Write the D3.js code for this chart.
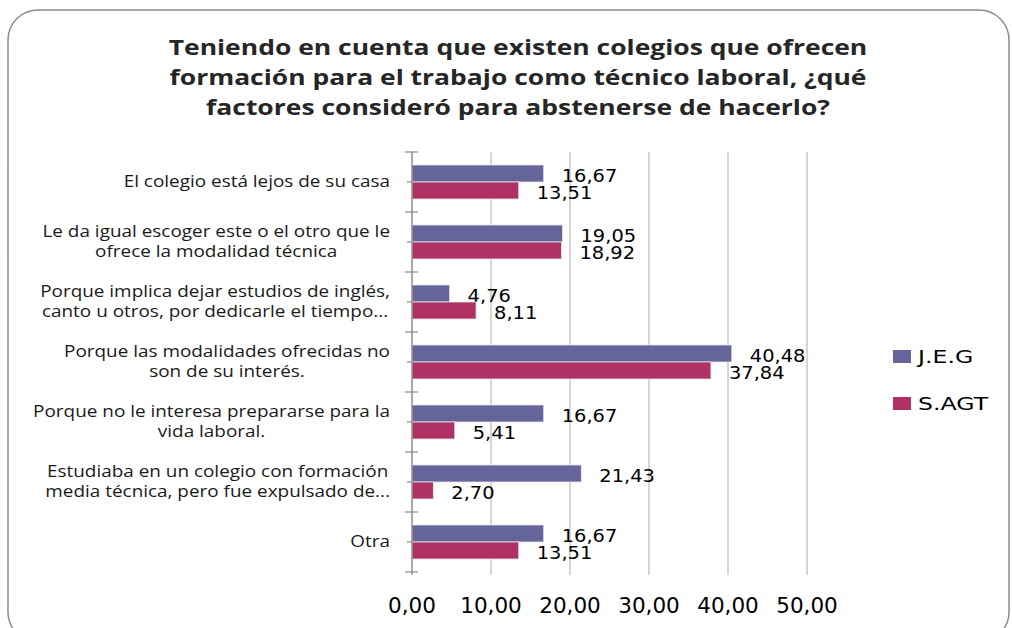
<!DOCTYPE html>
<html>
<head>
<meta charset="utf-8">
<script src="https://cdn.jsdelivr.net/npm/d3@7"></script>
<style>
  body { margin: 0; background: #fff; }
  svg { display: block; }
</style>
</head>
<body>
<svg id="chart" width="1012" height="628"></svg>
<script>
// categories (each one split into the lines shown on the axis)
const categories = [
  ["El colegio está lejos de su casa"],
  ["Le da igual escoger este o el otro que le", "ofrece la modalidad técnica"],
  ["Porque implica dejar estudios de inglés,", "canto u otros, por dedicarle el tiempo..."],
  ["Porque las modalidades ofrecidas no", "son de su interés."],
  ["Porque no le interesa prepararse para la", "vida laboral."],
  ["Estudiaba en un colegio con formación", "media técnica, pero fue expulsado de..."],
  ["Otra"]
];
const seriesNames = ["J.E.G", "S.AGT"];
const jegValues = [16.67, 19.05, 4.76, 40.48, 16.67, 21.43, 16.67];
const sagtValues = [13.51, 18.92, 8.11, 37.84, 5.41, 2.70, 13.51];
const xTicks = [0, 10, 20, 30, 40, 50];
const titleLines = [
  "Teniendo en cuenta que existen colegios que ofrecen",
  "formación para el trabajo como técnico laboral, ¿qué",
  "factores consideró para abstenerse de hacerlo?"
];

const COLORS = { "J.E.G": "#65659b", "S.AGT": "#b03163" };
const fmt = v => d3.format(".2f")(v).replace(".", ",");

// the original picture is a bit wider than tall, so text gets stretched sideways
function stretch(sel, sx) {
  sel.each(function() {
    const w = this.getComputedTextLength();
    d3.select(this)
      .attr("textLength", w * sx)
      .attr("lengthAdjust", "spacingAndGlyphs");
  });
}

const svg = d3.select("#chart");

// outer rounded frame (bottom edge runs past the picture)
svg.append("rect")
  .attr("x", 8).attr("y", 10)
  .attr("width", 1001).attr("height", 632)
  .attr("rx", 30)
  .attr("fill", "#fff")
  .attr("stroke", "#8c8c8c")
  .attr("stroke-width", 1.5);

// title
svg.append("g")
  .selectAll("text")
  .data(titleLines)
  .join("text")
  .attr("x", 518)
  .attr("y", (d, i) => 55 + i * 30)
  .attr("text-anchor", "middle")
  .attr("font-family", "'Open Sans', sans-serif")
  .attr("font-weight", "bold")
  .attr("font-size", 21)
  .attr("fill", "#262626")
  .text(d => d)
  .call(stretch, 1.26);

const plot = { left: 412, right: 807, top: 152, bottom: 572 };

const x = d3.scaleLinear().domain([0, 50]).range([plot.left, plot.right]);
const y = d3.scaleBand().domain(d3.range(categories.length)).range([plot.top, plot.bottom]);
const sub = d3.scaleBand().domain(seriesNames).range([0, 34]);

// gridlines
svg.append("g")
  .selectAll("line")
  .data(xTicks.slice(1))
  .join("line")
  .attr("x1", d => x(d)).attr("x2", d => x(d))
  .attr("y1", plot.top).attr("y2", plot.bottom + 3)
  .attr("stroke", "#c9c9c9")
  .attr("stroke-width", 1.5);

// x tick labels
svg.append("g")
  .selectAll("text")
  .data(xTicks)
  .join("text")
  .attr("x", d => x(d))
  .attr("y", 613)
  .attr("text-anchor", "middle")
  .attr("font-family", "'DejaVu Sans', sans-serif")
  .attr("font-size", 21.5)
  .attr("fill", "#000")
  .text(fmt);

// bars
const series = [
  { name: "J.E.G", values: jegValues },
  { name: "S.AGT", values: sagtValues }
];

const groups = svg.append("g")
  .selectAll("g")
  .data(series)
  .join("g")
  .attr("fill", d => COLORS[d.name]);

groups.selectAll("rect")
  .data(s => s.values.map((v, i) => ({ name: s.name, value: v, i })))
  .join("rect")
  .attr("x", x(0))
  .attr("y", d => y(d.i) + y.bandwidth() / 2 - 17 + sub(d.name))
  .attr("width", d => x(d.value) - x(0))
  .attr("height", sub.bandwidth())
  .attr("stroke", "#e6e6f0")
  .attr("stroke-width", 0.8);

// value labels
groups.selectAll("text")
  .data(s => s.values.map((v, i) => ({ name: s.name, value: v, i })))
  .join("text")
  .attr("x", d => x(d.value) + 18)
  .attr("y", d => y(d.i) + y.bandwidth() / 2 - 17 + sub(d.name) + sub.bandwidth() / 2 + 8)
  .attr("font-family", "'DejaVu Sans', sans-serif")
  .attr("font-size", 18.5)
  .attr("fill", "#000")
  .text(d => fmt(d.value))
  .call(stretch, 1.05);

// category axis
const axisG = svg.append("g");
axisG.append("line")
  .attr("x1", plot.left).attr("x2", plot.left)
  .attr("y1", plot.top).attr("y2", plot.bottom + 3)
  .attr("stroke", "#8c8c8c")
  .attr("stroke-width", 1.5);

axisG.selectAll(".major")
  .data(d3.range(categories.length + 1))
  .join("line")
  .attr("class", "major")
  .attr("x1", plot.left - 7).attr("x2", plot.left + 6)
  .attr("y1", i => plot.top + i * y.step())
  .attr("y2", i => plot.top + i * y.step())
  .attr("stroke", "#8c8c8c")
  .attr("stroke-width", 1.2);

axisG.selectAll(".minor")
  .data(d3.range(categories.length))
  .join("line")
  .attr("class", "minor")
  .attr("x1", plot.left - 5).attr("x2", plot.left)
  .attr("y1", i => y(i) + y.bandwidth() / 2)
  .attr("y2", i => y(i) + y.bandwidth() / 2)
  .attr("stroke", "#8c8c8c")
  .attr("stroke-width", 1.2);

// category labels: block right-aligned, lines centred within the block
const labelRight = 390;
const labelStretch = 1.22;
categories.forEach((lines, i) => {
  const cy = y(i) + y.bandwidth() / 2;
  const texts = svg.append("g")
    .selectAll("text")
    .data(lines)
    .join("text")
    .attr("y", (d, k) => cy + (k - (lines.length - 1) / 2) * 20 + 5)
    .attr("text-anchor", "middle")
    .attr("font-family", "'Open Sans', sans-serif")
    .attr("font-size", 15.5)
    .attr("fill", "#1a1a1a")
    .text(d => d);
  const w = d3.max(texts.nodes(), n => n.getComputedTextLength()) * labelStretch;
  texts.call(stretch, labelStretch)
    .attr("x", labelRight - w / 2);
});

// legend
const legend = svg.append("g")
  .selectAll("g")
  .data(seriesNames)
  .join("g")
  .attr("transform", (d, i) => `translate(893, ${350 + i * 47})`);

legend.append("rect")
  .attr("width", 18).attr("height", 13)
  .attr("fill", d => COLORS[d]);

legend.append("text")
  .attr("x", 25)
  .attr("y", 13)
  .attr("font-family", "'DejaVu Sans', sans-serif")
  .attr("font-size", 17.5)
  .attr("fill", "#000")
  .text(d => d)
  .call(stretch, 1.35);
</script>
</body>
</html>
